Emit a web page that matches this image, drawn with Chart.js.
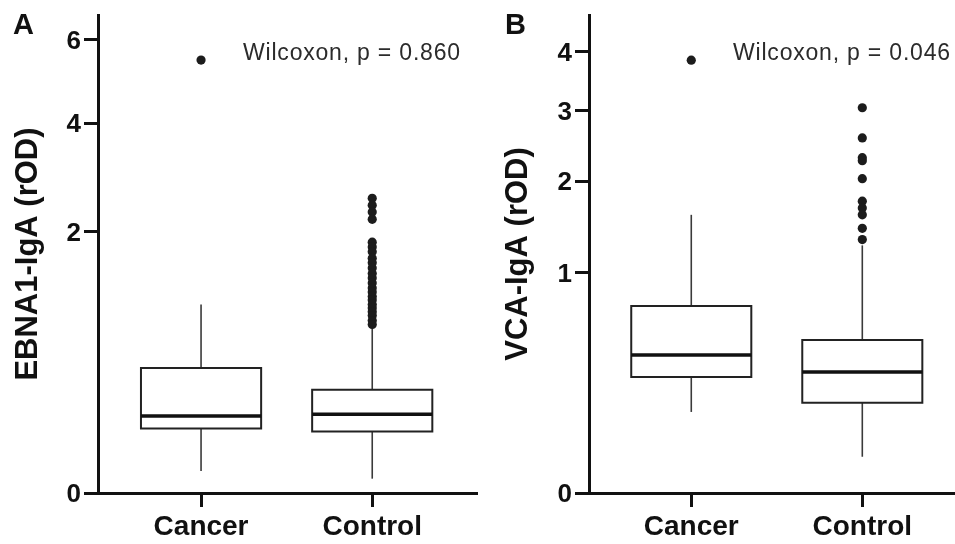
<!DOCTYPE html>
<html>
<head>
<meta charset="utf-8">
<script src="https://cdn.jsdelivr.net/npm/chart.js@4/dist/chart.umd.min.js"></script>
<style>
  body { margin: 0; background: #fff; }
  #wrap { position: relative; width: 955px; height: 544px; }
  #wrap canvas { position: absolute; top: 0; }
</style>
</head>
<body>
<div id="wrap">
  <canvas id="chartA" width="478" height="544" style="left:0"></canvas>
  <canvas id="chartB" width="477" height="544" style="left:478px"></canvas>
</div>
<script>
// ---------- data (rOD) ----------
const groups = ['Cancer', 'Control'];
const groupPos = [1, 2];

// panel A: EBNA1-IgA
const ebnaLow = [0.014, 0.006];
const ebnaQ1 = [0.122, 0.111];
const ebnaMedian = [0.173, 0.181];
const ebnaQ3 = [0.457, 0.312];
const ebnaHigh = [1.04, 0.80];
const ebnaOutCancer = [5.48];
const ebnaOutControl = [2.54, 2.42, 2.31, 2.19, 1.84, 1.77, 1.70, 1.61, 1.55, 1.48, 1.41,
  1.35, 1.29, 1.23, 1.18, 1.13, 1.09, 1.04, 1.00, 0.96, 0.92, 0.87, 0.83];
const ebnaTicks = [0, 2, 4, 6];

// panel B: VCA-IgA
const vcaLow = [0.135, 0.027];
const vcaQ1 = [0.277, 0.167];
const vcaMedian = [0.391, 0.301];
const vcaQ3 = [0.719, 0.481];
const vcaHigh = [1.59, 1.26];
const vcaOutCancer = [3.85];
const vcaOutControl = [3.05, 2.59, 2.31, 2.27, 2.03, 1.75, 1.67, 1.59, 1.44, 1.32];
const vcaTicks = [0, 1, 2, 3, 4];

// ---------- helpers ----------
const sq = v => Math.sqrt(v);   // y axis is square-root scaled
const BOX_HALF = 0.351;
const FONT = '"Liberation Sans", Arial, Helvetica, sans-serif';

function boxDatasets(low, q1, med, q3, high, outliers) {
  const sets = [];
  groupPos.forEach((x, i) => {
    const l = x - BOX_HALF, r = x + BOX_HALF;
    sets.push({
      order: 0,
      data: outliers[i].map(v => ({ x, y: sq(v) })),
      pointRadius: 4.6,
      pointBackgroundColor: '#1c1c1c',
      pointBorderWidth: 0,
      showLine: false
    });
    sets.push({
      order: 1,
      data: [{ x: l, y: sq(med[i]) }, { x: r, y: sq(med[i]) }],
      showLine: true, borderColor: '#111', borderWidth: 3.5, pointRadius: 0
    });
    sets.push({
      order: 2,
      data: [
        { x: l, y: sq(q1[i]) }, { x: r, y: sq(q1[i]) },
        { x: r, y: sq(q3[i]) }, { x: l, y: sq(q3[i]) }, { x: l, y: sq(q1[i]) }
      ],
      showLine: true, borderColor: '#222', borderWidth: 2, pointRadius: 0,
      borderJoinStyle: 'miter', borderCapStyle: 'square'
    });
    sets.push({
      order: 3,
      data: [{ x, y: sq(q3[i]) }, { x, y: sq(high[i]) }],
      showLine: true, borderColor: '#3a3a3a', borderWidth: 1.6, pointRadius: 0
    });
    sets.push({
      order: 3,
      data: [{ x, y: sq(low[i]) }, { x, y: sq(q1[i]) }],
      showLine: true, borderColor: '#3a3a3a', borderWidth: 1.6, pointRadius: 0
    });
  });
  return sets;
}

// panel letter + test annotation
const panelText = {
  id: 'panelText',
  afterDraw(chart, args, opts) {
    const ctx = chart.ctx;
    ctx.save();
    ctx.fillStyle = '#111';
    ctx.font = 'bold 29px ' + FONT;
    ctx.textBaseline = 'alphabetic';
    ctx.fillText(opts.letter, opts.letterX, 34);
    ctx.fillStyle = '#2b2b2b';
    ctx.font = '23px ' + FONT;
    ctx.letterSpacing = '0.8px';
    ctx.fillText(opts.note, opts.noteX, 60);
    ctx.restore();
  }
};

function makeChart(id, cfg) {
  return new Chart(document.getElementById(id), {
    type: 'scatter',
    data: { datasets: cfg.datasets },
    plugins: [panelText],
    options: {
      responsive: false,
      animation: false,
      layout: { autoPadding: false, padding: { top: 15, right: cfg.padRight, bottom: 0, left: 0 } },
      plugins: {
        legend: { display: false },
        tooltip: { enabled: false },
        panelText: { letter: cfg.letter, letterX: cfg.letterX, note: cfg.note, noteX: cfg.noteX }
      },
      scales: {
        x: {
          type: 'linear',
          min: cfg.xMin,
          max: cfg.xMax,
          afterBuildTicks: axis => { axis.ticks = groupPos.map(v => ({ value: v })); },
          afterFit: axis => { axis.height = 51; axis.paddingLeft = 0; axis.paddingRight = 0; },
          ticks: {
            callback: v => groups[groupPos.indexOf(v)],
            font: { family: FONT, size: 28, weight: 'bold' },
            color: '#111',
            padding: 3,
            maxRotation: 0,
            autoSkip: false
          },
          grid: { drawOnChartArea: false, drawTicks: true, tickLength: 14, lineWidth: 3, color: '#111' },
          border: { display: true, width: 3, color: '#111' }
        },
        y: {
          type: 'linear',
          min: 0,
          max: sq(cfg.yTop),
          afterBuildTicks: axis => { axis.ticks = cfg.yTicks.map(v => ({ value: sq(v) })); },
          afterFit: axis => { axis.width = cfg.yWidth; axis.paddingTop = 0; axis.paddingBottom = 0; },
          ticks: {
            callback: v => Math.round(v * v),
            font: { family: FONT, size: 26, weight: 'bold' },
            color: '#111',
            padding: 3,
            labelOffset: 2
          },
          grid: { drawOnChartArea: false, drawTicks: true, tickLength: 14, lineWidth: 3, color: '#111' },
          border: { display: true, width: 3, color: '#111' },
          title: {
            display: true,
            text: cfg.yTitle,
            font: { family: FONT, size: 31, weight: 'bold' },
            color: '#111',
            padding: { top: cfg.titlePad, bottom: 0 }
          }
        }
      }
    }
  });
}

makeChart('chartA', {
  datasets: boxDatasets(ebnaLow, ebnaQ1, ebnaMedian, ebnaQ3, ebnaHigh, [ebnaOutCancer, ebnaOutControl]),
  yTicks: ebnaTicks, yTop: 6.68, yWidth: 98, yTitle: 'EBNA1-IgA (rOD)', titlePad: 10,
  xMin: 0.398, xMax: 2.612, padRight: 1,
  letter: 'A', letterX: 13, note: 'Wilcoxon, p = 0.860', noteX: 243
});

makeChart('chartB', {
  datasets: boxDatasets(vcaLow, vcaQ1, vcaMedian, vcaQ3, vcaHigh, [vcaOutCancer, vcaOutControl]),
  yTicks: vcaTicks, yTop: 4.695, yWidth: 111, yTitle: 'VCA-IgA (rOD)', titlePad: 22,
  xMin: 0.402, xMax: 2.542, padRight: 0,
  letter: 'B', letterX: 27, note: 'Wilcoxon, p = 0.046', noteX: 255
});
</script>
</body>
</html>
